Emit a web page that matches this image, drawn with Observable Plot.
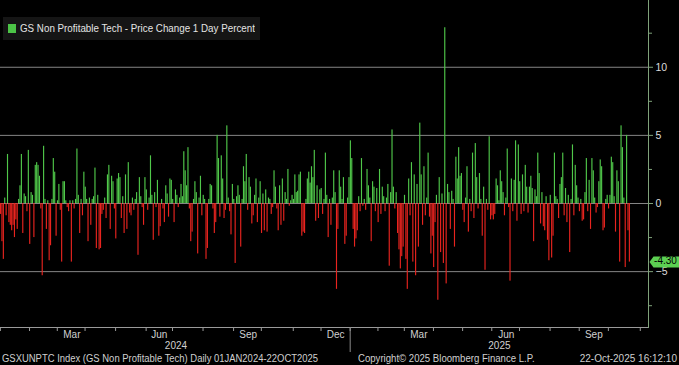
<!DOCTYPE html>
<html><head><meta charset="utf-8">
<script src="https://cdn.jsdelivr.net/npm/d3@7"></script>
<script src="https://cdn.jsdelivr.net/npm/@observablehq/plot@0.6"></script>
<style>
html,body{margin:0;padding:0;background:#000;}
#wrap{position:relative;width:679px;height:365px;overflow:hidden;background:#000;font-family:"Liberation Sans",Arial,sans-serif;}
#wrap svg{display:block;}
.legend{position:absolute;left:3px;top:17px;width:257px;height:23px;background:#151515;color:#e4e4e4;font-size:11px;}
.legend .sw{position:absolute;left:5px;top:7px;width:8px;height:9px;background:#4cc447;}
.legend .lt{position:absolute;left:17px;top:5px;white-space:nowrap;transform:scaleX(0.89);transform-origin:0 50%;}
.foot{position:absolute;top:353px;font-size:10px;line-height:11px;color:#cfcfcf;white-space:nowrap;transform-origin:0 50%;}
</style></head>
<body><div id="wrap"></div>
<script>
// ---- data ----
const legendLabel = "GS Non Profitable Tech - Price Change 1 Day Percent";
const footerLeft = "GSXUNPTC Index (GS Non Profitable Tech) Daily 01JAN2024-22OCT2025";
const footerCenter = "Copyright\u00A9 2025 Bloomberg Finance L.P.";
const footerRight = "22-Oct-2025 16:12:10";
const startDate = "2024-01-01";
const dataEnd = "2025-10-22";
const axisEnd = "2025-11-10";
const holidays = ["2024-01-01","2024-01-15","2024-02-19","2024-03-29","2024-05-27","2024-06-19","2024-07-04","2024-09-02","2024-11-28","2024-12-25","2025-01-01","2025-01-09","2025-01-20","2025-02-17","2025-04-18","2025-05-26","2025-06-19","2025-07-04","2025-09-01"];
const monthLabels = ["Mar","Jun","Sep","Dec"];
const yTicks = [-5, 0, 5, 10];
const yMinorTicks = [-7.5, -2.5, 2.5, 7.5, 12.5];
const yDomain = [-9.1, 14.9];
const values = [
-0.8,-2.8,-4.1,0.4,-0.9,3.6,-1.4,-1.6,-2.0,-1.6,
-2.5,-1.2,-1.9,0.3,1.3,3.6,-2.2,0.7,0.5,-0.6,
3.9,-3.0,0.8,0.6,-2.5,2.8,3.0,2.8,2.0,-0.4,
-5.3,4.2,0.3,-1.9,0.2,-4.2,-3.1,0.3,3.3,2.3,
-2.4,0.2,1.4,-0.5,-4.3,1.6,1.6,0.2,-0.3,-0.6,
0.2,-4.3,0.2,-0.4,0.3,4.0,0.6,-2.2,0.3,-0.9,
2.3,1.2,0.3,-2.8,0.4,-1.6,0.3,0.5,2.6,-3.3,
0.6,-3.4,-3.3,-0.8,-0.5,0.4,-1.1,2.1,2.8,-1.9,
2.0,1.6,-0.4,-2.6,1.8,2.2,1.9,-1.1,0.5,-2.2,
2.1,-1.9,3.0,-0.7,
-0.9,0.4,-0.5,0.3,0.8,-3.8,1.9,0.5,-0.3,-1.6,
1.9,1.0,-0.5,0.4,3.5,0.6,-2.7,0.8,-0.3,1.7,
-2.4,-1.7,0.3,-0.4,-1.4,1.3,0.7,-1.0,1.8,1.7,
0.3,-1.4,1.0,0.6,-0.3,0.4,1.4,0.5,3.8,2.4,
1.3,4.1,-0.4,-2.8,-2.1,0.3,1.6,0.8,-3.7,0.4,
2.0,-0.9,0.6,0.3,-4.1,-3.3,0.3,1.4,1.3,-0.4,
-2.2,-1.4,5.0,3.3,-1.0,3.5,1.8,-1.1,-0.5,5.7,
0.4,-0.6,-2.3,1.4,0.3,-4.4,0.5,1.3,0.6,-3.2,
0.3,2.7,1.6,3.6,-0.5,1.9,1.2,-1.5,-0.9,0.6,
1.8,
-1.4,0.4,1.6,-2.2,0.7,-2.0,1.0,-2.1,0.4,0.3,
-0.8,-0.3,2.4,1.2,-0.4,-2.0,1.3,-1.6,1.8,-1.3,
0.8,0.3,2.5,-0.2,0.2,0.6,0.3,2.1,0.8,0.9,
2.1,2.3,-2.4,-2.1,-2.2,0.3,1.8,2.3,1.5,2.7,
1.9,3.9,-1.3,1.3,-1.1,1.0,1.1,-0.8,0.3,3.7,
0.6,-2.5,0.3,-1.6,0.4,2.4,0.8,-6.3,-1.9,2.4,
1.2,0.3,1.9,-3.0,-2.4,0.4,1.9,4.6,3.3,-1.9,
-3.2,-2.6,-2.0,0.5,-0.6,3.3,-0.2,0.3,-0.5,2.5,
1.3,0.4,-2.8,1.6,1.2,-0.6,1.1,-1.4,2.5,-0.8,
1.2,0.5,-0.6,0.4,
1.4,-4.6,0.8,5.4,1.2,-0.4,0.8,-2.2,-3.4,-4.8,
-3.9,-3.2,0.6,-4.1,-6.3,1.8,-0.9,3.0,-4.3,2.1,
-5.3,1.4,-3.2,5.9,2.1,-1.6,2.7,-0.9,0.4,3.7,
-1.0,-3.7,-2.4,-4.7,-1.4,0.6,-7.1,1.9,-3.6,0.7,
-4.4,12.9,-5.9,1.4,0.8,-1.9,0.9,0.3,-3.2,3.4,
1.8,4.1,2.0,2.2,-0.5,-1.4,0.4,2.7,-2.1,0.3,
-0.6,3.7,-1.1,4.4,1.9,-0.4,2.2,0.3,-2.4,1.2,
-4.9,0.3,-0.5,4.9,-1.2,-0.9,-1.2,-0.8,1.8,1.3,
0.2,2.4,1.6,0.8,-0.9,0.4,4.0,-0.3,-5.7,1.8,
-0.6,1.7,4.6,-1.3,4.3,1.6,-0.8,2.1,-0.6,2.8,
1.2,-0.7,1.2,2.0,1.1,-2.8,1.0,0.5,3.7,2.2,
-1.5,0.8,-1.7,-2.0,0.5,-2.7,-4.2,0.6,-4.0,-2.4,
3.7,0.5,0.3,-1.1,1.4,1.9,3.7,-0.9,1.1,-1.4,
0.6,-3.6,0.3,4.3,-0.9,2.8,1.3,0.4,-0.6,0.3,
-1.3,-1.2,0.8,3.3,-0.6,1.7,-1.9,3.3,2.4,0.4,
-0.7,-0.3,1.6,3.2,2.7,-2.0,-1.8,0.3,0.6,-0.4,
0.6,3.4,3.0,0.5,-2.1,2.4,1.6,-4.3,5.7,4.1,
0.4,-4.7,5.0,-2.0,-4.30
];

// ---- build ----
const fmt = d3.utcFormat("%Y-%m-%d");
const hol = new Set(holidays);
const allDays = d3.utcDay.range(new Date(startDate + "T00:00Z"), d3.utcDay.offset(new Date(axisEnd + "T00:00Z"), 1))
  .filter(d => d.getUTCDay() !== 0 && d.getUTCDay() !== 6)
  .map(fmt).filter(k => !hol.has(k));
const tradingDays = allDays.filter(k => k <= dataEnd);
const data = tradingDays.map((k, i) => ({date: k, value: values[i]})).filter(d => d.value !== undefined);
const last = data[data.length - 1];

const byMonth = d3.groups(allDays, k => k.slice(0, 7));
const monthStarts = byMonth.map(([, ks]) => ks[0]);
const monthName = k => d3.utcFormat("%b")(new Date(k + "T00:00Z"));
const monthMid = byMonth.filter(([, ks]) => monthLabels.includes(monthName(ks[0])) && ks[0] <= dataEnd)
  .map(([, ks]) => ks[Math.floor(ks.length / 2)]);
const byYear = d3.groups(allDays, k => k.slice(0, 4));
const yearMid = byYear.map(([, ks]) => ks[Math.floor(ks.length / 2)]);
const yearStarts = byYear.slice(1).map(([, ks]) => ks[0]);

const W = 679, H = 365, mR = 31, mB = 38;
const step = (W - mR) / allDays.length;
const green = "#50c84a", red = "#e8241f", axisGreen = "#7fa27a", gridGray = "#858585";

const tag = {draw(ctx) {
  ctx.moveTo(-15, 0); ctx.lineTo(-11, -5.5); ctx.lineTo(16, -5.5);
  ctx.lineTo(16, 5.5); ctx.lineTo(-11, 5.5); ctx.closePath();
}};

const chart = Plot.plot({
  width: W, height: H,
  marginLeft: 0, marginRight: mR, marginTop: 0, marginBottom: mB,
  style: {background: "#000", color: "#d0d0d0", fontFamily: "Liberation Sans, Arial, sans-serif", fontSize: "10px"},
  x: {type: "band", domain: allDays, paddingInner: 0.18, paddingOuter: 0},
  y: {domain: yDomain},
  marks: [
    Plot.ruleY(yTicks, {stroke: gridGray, strokeWidth: 1}),
    Plot.barY(data.filter(d => d.value >= 0), {x: "date", y: "value", fill: green}),
    Plot.barY(data.filter(d => d.value < 0), {x: "date", y: "value", fill: red}),
    Plot.ruleY([yDomain[0]], {stroke: "#9a9a9a"}),
    Plot.frame({anchor: "right", stroke: axisGreen}),
    Plot.axisY(yTicks, {anchor: "right", tickSize: 4, tickPadding: 3, label: null, fill: "#dcdcdc", stroke: axisGreen, fontSize: 10.5}),
    Plot.axisY(yMinorTicks, {anchor: "right", tickSize: 3, tickFormat: () => "", label: null, stroke: axisGreen}),
    Plot.axisX(monthStarts, {tickSize: 4, tickFormat: () => "", label: null, stroke: "#9a9a9a", dx: -step / 2}),
    Plot.axisX(monthMid, {tickSize: 0, tickPadding: 3, tickFormat: monthName, label: null, fill: "#d0d0d0", fontSize: 10}),
    Plot.axisX(yearMid, {tickSize: 0, tickPadding: 14, tickFormat: k => k.slice(0, 4), label: null, fill: "#d0d0d0", fontSize: 10}),
    Plot.axisX(yearStarts, {tickSize: 25, tickFormat: () => "", label: null, stroke: "#8a8a8a", dx: -step / 2}),
    Plot.dot([last], {y: "value", frameAnchor: "right", dx: 16, symbol: tag, fill: "#5ccf52", stroke: null}),
    Plot.text([last], {y: "value", frameAnchor: "right", dx: 17, dy: -1, text: d => d.value.toFixed(2), fill: "#000", fontSize: 10, textAnchor: "middle"})
  ]
});

const wrap = document.getElementById("wrap");
wrap.appendChild(chart);
const lg = document.createElement("div");
lg.className = "legend";
lg.innerHTML = '<span class="sw"></span><span class="lt"></span>';
lg.querySelector(".lt").textContent = legendLabel;
wrap.appendChild(lg);
const addFoot = (txt, css) => { const e = document.createElement("div"); e.className = "foot"; e.textContent = txt; Object.assign(e.style, css); wrap.appendChild(e); };
addFoot(footerLeft, {left: "2px", transform: "scaleX(0.945)"});
addFoot(footerCenter, {left: "358px", transform: "scaleX(0.96)"});
addFoot(footerRight, {right: "2px"});
</script>
</body></html>
